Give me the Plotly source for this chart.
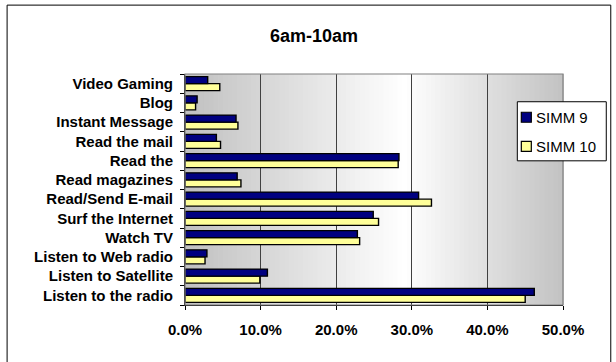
import plotly.graph_objects as go

categories = ["Listen to the radio", "Listen to Satellite", "Listen to Web radio", "Watch TV",
              "Surf the Internet", "Read/Send E-mail", "Read magazines", "Read the",
              "Read the mail", "Instant Message", "Blog", "Video Gaming"]
simm9 = [46.2, 10.9, 2.9, 22.8, 24.9, 30.9, 6.9, 28.3, 4.15, 6.75, 1.6, 3.0]
simm10 = [45.0, 9.9, 2.65, 23.1, 25.6, 32.6, 7.4, 28.2, 4.7, 7.0, 1.4, 4.6]
x_ticks = [0, 10, 20, 30, 40, 50]
series_names = ["SIMM 9", "SIMM 10"]
series_colors = ["#000080", "#ffff99"]

FONT = "Liberation Sans, Arial, sans-serif"

# plot area in pixels
L, R, T, B = 184.5, 562.7, 74.3, 305.0
W, H = 616, 362
PW, PH = R - L, B - T


def px_x(x):
    return (x - L) / PW


def px_y(y):
    return (B - y) / PH


fig = go.Figure()
fig.add_trace(go.Bar(y=categories, x=simm10, name=series_names[1], orientation="h",
                     marker=dict(color=series_colors[1], line=dict(color="black", width=1.4)),
                     showlegend=False))
fig.add_trace(go.Bar(y=categories, x=simm9, name=series_names[0], orientation="h",
                     marker=dict(color=series_colors[0], line=dict(color="black", width=1.4)),
                     showlegend=False))

# gradient background stripes
shapes = []
n = 80
peak = 0.58
for i in range(n):
    f0 = i / n
    f1 = (i + 1) / n
    fc = (f0 + f1) / 2
    if fc <= peak:
        t = fc / peak
        g = 192 + (255 - 192) * t
    else:
        t = (fc - peak) / (1 - peak)
        g = 255 - (255 - 194) * t
    g = int(round(g))
    shapes.append(dict(type="rect", xref="x domain", yref="y domain", x0=f0, x1=f1 + 0.002,
                       y0=0, y1=1, fillcolor=f"rgb({g},{g},{g})", line=dict(width=0),
                       layer="below"))
# plot frame
shapes.append(dict(type="rect", xref="x domain", yref="y domain", x0=0, x1=1, y0=0, y1=1,
                   line=dict(color="#808080", width=1.2), layer="above"))
# outer chart border
shapes.append(dict(type="rect", xref="paper", yref="paper",
                   x0=px_x(6.5), x1=px_x(610.5), y0=px_y(370), y1=px_y(5.5),
                   line=dict(color="black", width=1), layer="below"))

# custom legend
annotations = []
lx0, lx1, ly0, ly1 = 517, 606, 102, 161
shapes.append(dict(type="rect", xref="paper", yref="paper",
                   x0=px_x(lx0), x1=px_x(lx1), y0=px_y(ly1), y1=px_y(ly0),
                   fillcolor="white", line=dict(color="black", width=1), layer="above"))
for i, (name, col) in enumerate(zip(series_names, series_colors)):
    cy = 117.5 + 29 * i
    shapes.append(dict(type="rect", xref="paper", yref="paper",
                       x0=px_x(521), x1=px_x(531), y0=px_y(cy + 5), y1=px_y(cy - 5),
                       fillcolor=col, line=dict(color="black", width=1.2), layer="above"))
    annotations.append(dict(xref="paper", yref="paper", x=px_x(534), y=px_y(cy),
                            xanchor="left", yanchor="middle", showarrow=False, text=name,
                            font=dict(family=FONT, size=15, color="black")))

fig.update_layout(
    width=W, height=H,
    margin=dict(l=L, r=W - R, t=T, b=H - B),
    paper_bgcolor="white", plot_bgcolor="white",
    barmode="group", bargap=0.27, bargroupgap=0.0,
    title=dict(text="<b>6am-10am</b>", x=px_x(314) * PW / W + L / W, xanchor="center",
               y=1 - 36 / H, yanchor="middle",
               font=dict(family=FONT, size=18, color="black")),
    font=dict(family=FONT, color="black"),
    shapes=shapes,
    annotations=annotations,
    showlegend=False,
    xaxis=dict(range=[0, 50], tickvals=x_ticks, ticktext=[f"{v:.1f}%" for v in x_ticks],
               showgrid=True, gridcolor="#404040", gridwidth=1,
               showline=True, linecolor="black", linewidth=1,
               ticks="outside", ticklen=4, tickcolor="black", ticklabelstandoff=7,
               tickfont=dict(family=FONT, size=15, color="black", weight="bold"),
               zeroline=False, fixedrange=True),
    yaxis=dict(categoryorder="array", categoryarray=categories,
               showline=True, linecolor="black", linewidth=1,
               ticks="outside", ticklen=4, tickcolor="black", tickson="boundaries",
               ticklabelstandoff=8,
               tickfont=dict(family=FONT, size=15, color="black", weight="bold"),
               showgrid=False, fixedrange=True),
)

fig.write_html("out.html")
